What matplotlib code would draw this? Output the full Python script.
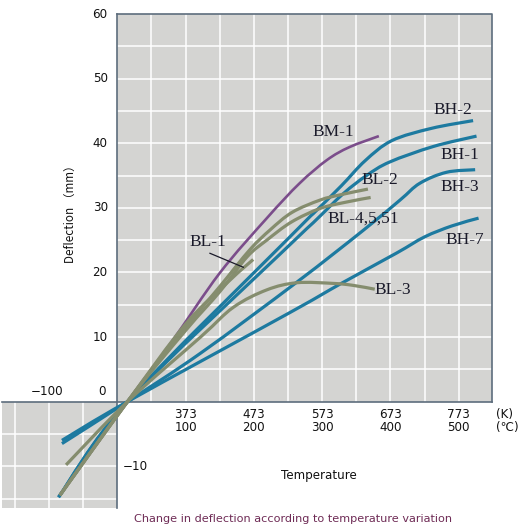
import matplotlib
matplotlib.use("Agg")
import matplotlib.pyplot as plt
from matplotlib.patches import Rectangle, PathPatch
from matplotlib.path import Path

# ---------------- data ----------------
bm1_t = [-84, 15, 80, 150, 219, 267, 307, 340, 383]
bm1_d = [-14.5, 0, 9.3, 19.9, 28.4, 33.8, 37.4, 39.4, 41.1]

bl1_t = [-84, 15, 100, 165, 199]
bl1_d = [-14.5, 0, 12.0, 18.8, 22.0]

bl2_t = [-84, 15, 100, 150, 194, 224, 256, 297, 326, 367]
bl2_d = [-14.5, 0, 11.5, 17.8, 23.5, 26.6, 29.3, 31.2, 32.0, 32.9]

bl4_t = [-84, 15, 100, 150, 190, 219, 255, 297, 336, 371]
bl4_d = [-14.5, 0, 11.0, 17.0, 22.4, 25.0, 27.8, 29.9, 30.9, 31.6]

bl3_t = [-75, 15, 122, 170, 219, 263, 316, 345, 377]
bl3_d = [-9.8, 0, 10.0, 14.6, 17.3, 18.4, 18.3, 18.0, 17.4]

bh2_t = [-86, 15, 248, 287, 328, 363, 402, 460, 521]
bh2_d = [-14.8, 0, 25.0, 29.1, 33.4, 37.3, 40.4, 42.3, 43.5]

bh1_t = [-86, 15, 238, 287, 331, 365, 399, 463, 526]
bh1_d = [-14.8, 0, 22.8, 27.7, 32.2, 35.0, 37.1, 39.5, 41.1]

bh3_t = [-81, 15, 122, 263, 360, 414, 443, 482, 524]
bh3_d = [-6.5, 0, 7.5, 18.5, 26.5, 31.2, 33.8, 35.5, 35.9]

bh7_t = [-81, 15, 253, 328, 409, 450, 490, 529]
bh7_d = [-6.0, 0, 13.8, 18.3, 23.0, 25.5, 27.2, 28.4]

y_ticks = [10, 20, 30, 40, 50, 60]
x_ticks_c = [100, 200, 300, 400, 500]
x_ticks_k = [373, 473, 573, 673, 773]

BLUE = "#1d7aa0"
OLIVE = "#858d6e"
PURPLE = "#7b4d8b"
BG = "#d4d4d2"
AX = "#5d6d7d"

fig = plt.figure(figsize=(5.3, 5.31), dpi=100)
ax = fig.add_axes([0, 0, 1, 1])
ax.set_xlim(-171.7, 604.3)
ax.set_ylim(-20.03, 62.17)
ax.axis("off")


def smooth_path(xs, ys):
    """Catmull-Rom curve through the points, drawn as cubic Bezier segments."""
    sx, sy = 0.683, 6.46
    px = [x * sx for x in xs]
    py = [y * sy for y in ys]
    n = len(px)
    verts = [(xs[0], ys[0])]
    codes = [Path.MOVETO]
    for i in range(n - 1):
        p0 = (px[i - 1], py[i - 1]) if i > 0 else (px[i], py[i])
        p1 = (px[i], py[i])
        p2 = (px[i + 1], py[i + 1])
        p3 = (px[i + 2], py[i + 2]) if i + 2 < n else p2
        c1 = (p1[0] + (p2[0] - p0[0]) / 6.0, p1[1] + (p2[1] - p0[1]) / 6.0)
        c2 = (p2[0] - (p3[0] - p1[0]) / 6.0, p2[1] - (p3[1] - p1[1]) / 6.0)
        for c in (c1, c2, p2):
            verts.append((c[0] / sx, c[1] / sy))
            codes.append(Path.CURVE4)
    return Path(verts, codes)


def draw(xs, ys, color, lw):
    ax.add_patch(PathPatch(smooth_path(xs, ys), facecolor="none", edgecolor=color,
                           lw=lw, capstyle="butt", joinstyle="round", zorder=3))


# background regions
ax.add_patch(Rectangle((0, 0), 548, 60, facecolor=BG, edgecolor="none", zorder=0))
ax.add_patch(Rectangle((-169, -16.5), 169, 16.5, facecolor=BG, edgecolor="none", zorder=0))

# grid
for t in range(50, 548, 50):
    ax.plot([t, t], [0, 60], color="white", lw=1.1, zorder=1)
for d in range(5, 60, 5):
    ax.plot([0, 548], [d, d], color="white", lw=1.1, zorder=1)
for t in (-50, -100, -150):
    ax.plot([t, t], [-16.5, 0], color="white", lw=1.1, zorder=1)
for d in (-5, -10, -15):
    ax.plot([-169, 0], [d, d], color="white", lw=1.1, zorder=1)

# borders / axes
ax.plot([0, 548, 548], [60, 60, 0], color=AX, lw=1.2, zorder=2)
ax.plot([-169, 548], [0, 0], color=AX, lw=1.2, zorder=2)
ax.plot([0, 0], [-16.5, 60], color=AX, lw=1.2, zorder=2)

# curves
for t, d in [(bh2_t, bh2_d), (bh1_t, bh1_d), (bh3_t, bh3_d), (bh7_t, bh7_d)]:
    draw(t, d, BLUE, 2.3)
draw(bm1_t, bm1_d, PURPLE, 1.9)
for t, d in [(bl3_t, bl3_d), (bl4_t, bl4_d), (bl2_t, bl2_d), (bl1_t, bl1_d)]:
    draw(t, d, OLIVE, 2.3)

# series labels
serif = dict(family="Liberation Serif", fontsize=12.5, color="#1a1a2a", zorder=5,
             ha="center", va="center")
ax.text(491, 45.1, "BH-2", **serif)
ax.text(316, 41.8, "BM-1", **serif)
ax.text(502, 38.2, "BH-1", **serif)
ax.text(385, 34.3, "BL-2", **serif)
ax.text(502, 33.2, "BH-3", **serif)
ax.text(360, 28.4, "BL-4,5,51", **serif)
ax.text(509, 25.0, "BH-7", **serif)
ax.text(404, 17.3, "BL-3", **serif)
ax.text(133, 24.75, "BL-1", **serif)
ax.plot([135.7, 184.5], [22.96, 20.8], color="#1a1a2a", lw=0.9, zorder=5)

# tick labels
sans = dict(family="DejaVu Sans", fontsize=8.6, color="#111111")
for v in y_ticks:
    ax.text(-14, v, str(v), ha="right", va="center", **sans)
ax.text(-17, 1.6, "0", ha="right", va="center", **sans)
ax.text(-103, 1.6, "\u2212100", ha="center", va="center", **sans)
ax.text(8, -10, "\u221210", ha="left", va="center", **sans)
for c, k in zip(x_ticks_c, x_ticks_k):
    ax.text(c, -1.0, f"{k}\n{c}", ha="center", va="top", linespacing=0.95, **sans)
ax.text(554, -1.0, "(K)\n(\u2103)", ha="left", va="top", linespacing=0.95, **sans)

ax.text(-69, 29.5, "Deflection \uff08mm\uff09", rotation=90, ha="center", va="center",
        family=["Noto Sans CJK JP", "DejaVu Sans"], fontsize=8.4, color="#111111")
ax.text(295, -11.5, "Temperature", ha="center", va="center", **sans)
ax.text(258, -18.2, "Change in deflection according to temperature variation",
        ha="center", va="center", family="DejaVu Sans", fontsize=8.1, color="#6e2b55")

fig.savefig("out.png", dpi=100)
